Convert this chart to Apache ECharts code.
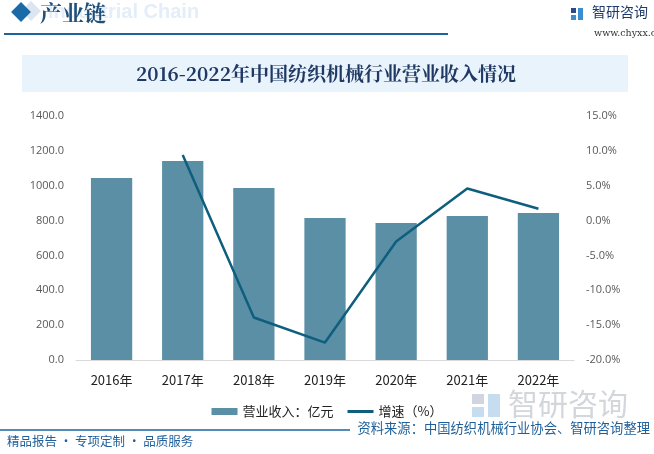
<!DOCTYPE html>
<html><head><meta charset="utf-8">
<script src="https://cdn.jsdelivr.net/npm/echarts@6/dist/echarts.min.js"></script>
<style>html,body{margin:0;padding:0;background:#fff}#c{width:654px;height:454px}</style>
</head><body><div id="c"></div>
<script>
const categories = ['2016年','2017年','2018年','2019年','2020年','2021年','2022年'];
const revenue = [1044, 1142, 987, 815, 786, 826, 843];
const growth = [null, 9.4, -13.9, -17.5, -3.0, 4.6, 1.7];
const leftTicks = {min: 0, max: 1400, interval: 200};
const rightTicks = {min: -20, max: 15, interval: 5};
const titleText = '2016-2022年中国纺织机械行业营业收入情况';
const seriesNames = ['营业收入：亿元', '增速（%）'];

const chart = echarts.init(document.getElementById('c'), null, {renderer: 'canvas'});
const blue = '#1f5f99';
const cjk = '"Noto Sans CJK SC", "Microsoft YaHei", sans-serif';
const serif = '"Noto Serif CJK SC", "DejaVu Serif", serif';
chart.setOption({
  animation: false,
  backgroundColor: '#fff',
  graphic: [
    // header
    {type: 'text', left: 48, top: 2, z: 0, style: {text: 'Industrial Chain', fill: '#e3eef8', font: 'bold 20px "Liberation Sans", Arial, sans-serif'}},
    {type: 'rect', shape: {x: 0, y: 0, width: 14, height: 14}, x: 24, y: 4, rotation: -Math.PI/4, originX: 7, originY: 7, style: {fill: '#dbe6f0'}},
    {type: 'rect', shape: {x: 0, y: 0, width: 14, height: 14}, x: 14, y: 5, rotation: -Math.PI/4, originX: 7, originY: 7, style: {fill: '#1a6aa8'}},
    {type: 'text', left: 40, top: 2, style: {text: '产业链', fill: '#1f4e79', font: 'bold 22px ' + serif}},
    {type: 'line', shape: {x1: 4, y1: 34, x2: 448, y2: 34}, style: {stroke: '#1a64a0', lineWidth: 2}},
    {type: 'rect', shape: {x: 571, y: 8, width: 5, height: 5}, style: {fill: '#2b4a8a'}},
    {type: 'rect', shape: {x: 578, y: 8, width: 5, height: 12}, style: {fill: '#3b8fd0'}},
    {type: 'rect', shape: {x: 571, y: 15, width: 5, height: 5}, style: {fill: '#3b8fd0'}},
    {type: 'text', left: 592, top: 5, style: {text: '智研咨询', fill: '#1f3a6a', font: '14px ' + cjk}},
    {type: 'text', left: 594, top: 29, style: {text: 'www.chyxx.com', fill: '#333', font: '9.5px "DejaVu Serif", serif'}},
    // title band
    {type: 'rect', shape: {x: 22, y: 55, width: 606, height: 37}, style: {fill: '#e8f3fb'}},
    {type: 'text', x: 326, y: 74, style: {text: titleText, fill: '#1f3864', font: 'bold 19px ' + serif, textAlign: 'center', textVerticalAlign: 'middle'}},
    // watermark near legend
    {type: 'text', left: 508, top: 389, z: 0, style: {text: '智研咨询', fill: '#d3d6da', font: '30px ' + cjk}},
    {type: 'rect', shape: {x: 472, y: 394, width: 12, height: 10}, z: 0, style: {fill: '#cfd6e0'}},
    {type: 'rect', shape: {x: 488, y: 394, width: 12, height: 23}, z: 0, style: {fill: '#c6ddf0'}},
    {type: 'rect', shape: {x: 472, y: 407, width: 12, height: 10}, z: 0, style: {fill: '#c6ddf0'}},
    // footer
    {type: 'line', shape: {x1: 0, y1: 430, x2: 350, y2: 430}, style: {stroke: '#1a64a0', lineWidth: 1.5}},
    {type: 'text', left: 7, top: 435, style: {text: '精品报告 · 专项定制 · 品质服务', fill: blue, font: '12.5px ' + cjk}},
    {type: 'text', right: 4, top: 421, style: {text: '资料来源：中国纺织机械行业协会、智研咨询整理', fill: blue, font: '13.3px ' + cjk}}
  ],
  grid: {left: 76, right: 80, top: 116, bottom: 94},
  legend: {
    top: 400, left: 'center',
    itemWidth: 26, itemHeight: 7, itemGap: 14,
    textStyle: {fontSize: 13, color: '#222', fontFamily: cjk},
    data: [
      {name: seriesNames[0], icon: 'rect'},
      {name: seriesNames[1], icon: 'path://M0,0 L26,0 L26,3 L0,3 Z'}
    ]
  },
  xAxis: {
    type: 'category', data: categories,
    axisLine: {lineStyle: {color: '#d9d9d9'}},
    axisTick: {show: false},
    axisLabel: {color: '#222', fontSize: 13, margin: 14, fontFamily: cjk}
  },
  yAxis: [
    {type: 'value', min: leftTicks.min, max: leftTicks.max, interval: leftTicks.interval,
     splitLine: {show: false}, axisLine: {show: false}, axisTick: {show: false},
     axisLabel: {color: '#595959', fontSize: 11, margin: 12, formatter: v => v.toFixed(1), fontFamily: '"Open Sans", sans-serif'}},
    {type: 'value', min: rightTicks.min, max: rightTicks.max, interval: rightTicks.interval,
     splitLine: {show: false}, axisLine: {show: false}, axisTick: {show: false},
     axisLabel: {color: '#595959', fontSize: 11, margin: 12, formatter: v => v.toFixed(1) + '%', fontFamily: '"Open Sans", sans-serif'}}
  ],
  series: [
    {name: seriesNames[0], type: 'bar', data: revenue, barWidth: '58%', itemStyle: {color: '#5b8fa6'}},
    {name: seriesNames[1], type: 'line', yAxisIndex: 1, data: growth, symbol: 'none', connectNulls: false,
     lineStyle: {color: '#0e5e7e', width: 2.5}, itemStyle: {color: '#0e5e7e'}}
  ]
});
</script></body></html>
